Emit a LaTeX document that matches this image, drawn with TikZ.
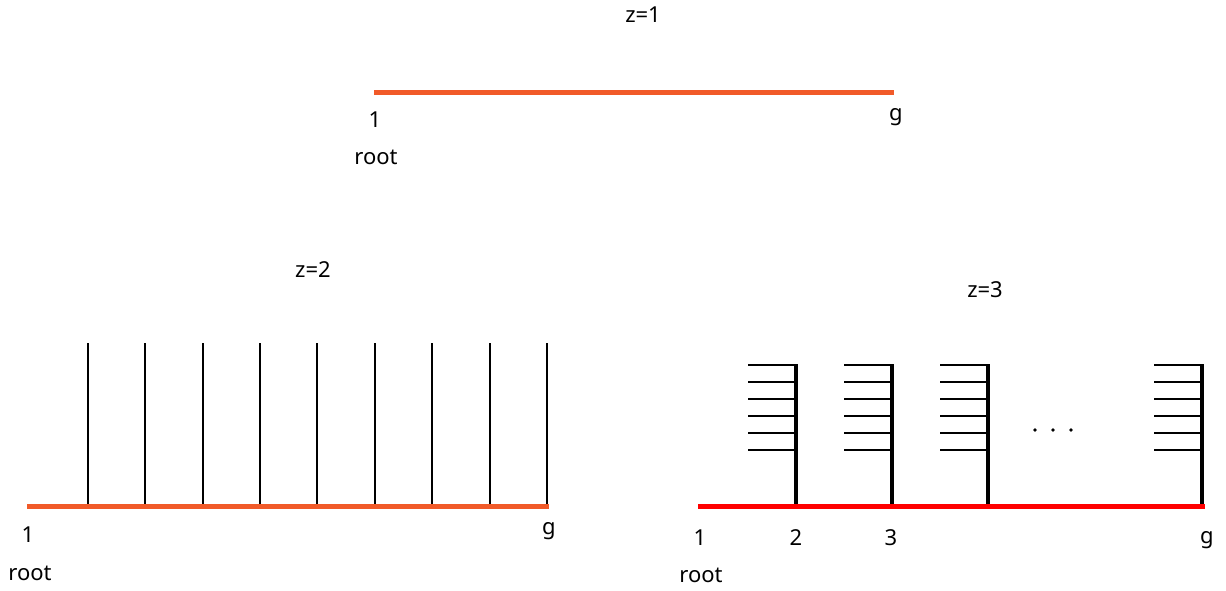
\documentclass[tikz,border=0pt]{standalone}
\usepackage{fontspec}
\setmainfont{Noto Sans}
\definecolor{branchorange}{HTML}{F15A29}
\definecolor{branchred}{HTML}{FF0000}
\begin{document}
\begin{tikzpicture}[x=1pt,y=-1pt,
  lbl/.style={inner sep=0pt,font=\fontsize{22}{26}\selectfont},
  orangeline/.style={draw=branchorange,line width=5pt},
  redline/.style={draw=branchred,line width=5pt},
  thinline/.style={draw=black,line width=2.5pt},
  thickline/.style={draw=black,line width=3.5pt},
  tooth/.style={draw=black,line width=2.5pt}]
\useasboundingbox (0,0) rectangle (1226,590);
% ---------- z=1 ----------
\node[lbl] (z1) at (643,15) {z=1};
\coordinate (a1) at (374,92);
\coordinate (a2) at (894,92);
\draw[orangeline] (a1) -- (a2);
\node[lbl] (a1n) at (375,120) {1};
\node[lbl] (a2n) at (896,117) {g};
\node[lbl] (a1r) at (376,157) {root};
% ---------- z=2 ----------
\node[lbl] (z2) at (313,270) {z=2};
\coordinate (b1) at (27,506);
\coordinate (b2) at (549,506);
\foreach \i/\x in {1/88,2/145,3/203,4/260,5/317,6/375,7/432,8/490,9/547}{
  \coordinate (bt\i) at (\x,343);
  \coordinate (bb\i) at (\x,506);
  \draw[thinline] (bt\i) -- (bb\i);
}
\draw[orangeline] (b1) -- (b2);
\node[lbl] (b1n) at (28,535) {1};
\node[lbl] (b2n) at (549,531) {g};
\node[lbl] (b1r) at (30,573) {root};
% ---------- z=3 ----------
\node[lbl] (z3) at (985,290) {z=3};
\coordinate (c1) at (698,506);
\coordinate (c2) at (1205,506);
\foreach \k/\x in {1/796,2/892,3/988,4/1202}{
  \coordinate (ct\k) at (\x,364);
  \coordinate (cb\k) at (\x,506);
  \foreach \j/\y in {1/365,2/382,3/399,4/416,5/433,6/450}{
    \coordinate (cl\k\j) at (\x-48,\y);
    \coordinate (cr\k\j) at (\x,\y);
    \draw[tooth] (cl\k\j) -- (cr\k\j);
  }
  \draw[thickline] (ct\k) -- (cb\k);
}
\draw[redline] (c1) -- (c2);
\foreach \d/\x in {1/1035,2/1053,3/1071}{
  \fill (\x,430) circle (1.8pt) coordinate (dot\d);
}
\node[lbl] (c1n) at (700,538) {1};
\node[lbl] (c2n) at (796,538) {2};
\node[lbl] (c3n) at (891,538) {3};
\node[lbl] (c4n) at (1207,540) {g};
\node[lbl] (c1r) at (701,575) {root};
\end{tikzpicture}
\end{document}
